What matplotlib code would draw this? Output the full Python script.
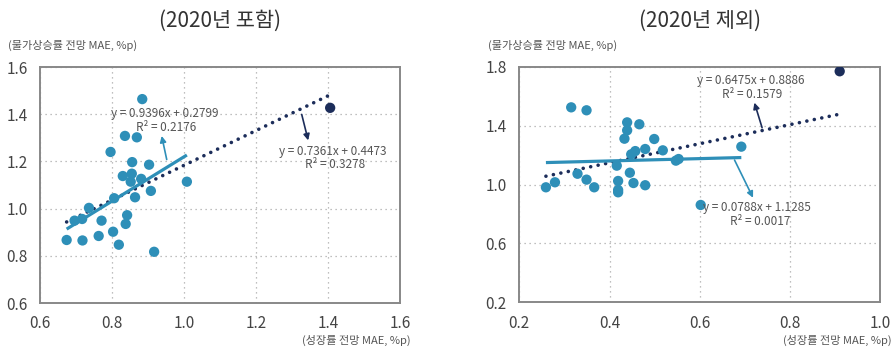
import numpy as np
import matplotlib
matplotlib.use("Agg")
import matplotlib.pyplot as plt

plt.rcParams['font.family'] = ['Noto Sans CJK KR', 'DejaVu Sans']

# (2020년 포함) - 성장률 MAE (x), 물가상승률 MAE (y)
inc_x = [0.884, 0.836, 0.869, 0.796, 0.856, 0.903, 0.830, 0.855, 0.852, 0.881,
         1.008, 0.908, 0.864, 0.806, 0.736, 0.696, 0.717, 0.771, 0.842, 0.838,
         0.674, 0.718, 0.763, 0.803, 0.819, 0.917]
inc_y = [1.464, 1.308, 1.302, 1.240, 1.197, 1.186, 1.138, 1.148, 1.114, 1.126,
         1.114, 1.075, 1.048, 1.044, 1.003, 0.949, 0.956, 0.949, 0.972, 0.935,
         0.867, 0.865, 0.884, 0.902, 0.847, 0.817]
inc_2020 = [1.406, 1.427]

# (2020년 제외)
exc_x = [0.315, 0.349, 0.439, 0.466, 0.439, 0.433, 0.499, 0.479, 0.457, 0.448,
         0.518, 0.547, 0.553, 0.416, 0.445, 0.329, 0.349, 0.279, 0.259, 0.366,
         0.419, 0.453, 0.479, 0.419, 0.419, 0.602, 0.692]
exc_y = [1.524, 1.504, 1.422, 1.409, 1.368, 1.311, 1.309, 1.241, 1.227, 1.205,
         1.232, 1.162, 1.173, 1.128, 1.080, 1.073, 1.033, 1.015, 0.981, 0.981,
         1.024, 1.010, 0.995, 0.963, 0.947, 0.861, 1.257]
exc_2020 = [0.910, 1.769]

# trend lines from the chart: (slope, intercept, R2)
inc_fit_light = (0.9396, 0.2799, 0.2176)
inc_fit_all = (0.7361, 0.4473, 0.3278)
exc_fit_light = (0.0788, 1.1285, 0.0017)
exc_fit_all = (0.6475, 0.8886, 0.1579)

light = '#2e8fb8'
navy = '#1c2d5a'
grey_txt = '#555555'

fig = plt.figure(figsize=(8.94, 3.5), dpi=100)
ax1 = fig.add_axes([40 / 894, 47 / 350, 360 / 894, 236 / 350])
ax2 = fig.add_axes([519.3 / 894, 47.7 / 350, 361 / 894, 235.6 / 350])


def eq(fit):
    s, b, r2 = fit
    return f"y = {s:.4f}x + {b:.4f}", f"R² = {r2:.4f}"


def panel(ax, xs, ys, pt, fit_light, fit_all, xlim, ylim, xticks, yticks,
          title, txt_light, txt_all, arr_light, arr_all):
    ax.set_xlim(*xlim)
    ax.set_ylim(*ylim)
    ax.set_xticks(xticks)
    ax.set_yticks(yticks)
    ax.set_xticklabels([f"{t:.1f}" for t in xticks])
    ax.set_yticklabels([f"{t:.1f}" for t in yticks])
    ax.tick_params(length=0, labelsize=11, colors='#444444', pad=9)
    ax.grid(True, linestyle=(0, (1, 3)), color='#aaaaaa', linewidth=0.9)
    for sp in ax.spines.values():
        sp.set_color('#888888')
        sp.set_linewidth(1.4)

    # dotted trend (all points incl. dark)
    all_x = list(xs) + [pt[0]]
    x0, x1 = min(all_x), max(all_x)
    xx = np.array([x0, x1])
    ax.plot(xx, fit_all[0] * xx + fit_all[1], color=navy, linewidth=2.6,
            linestyle=(0, (0.01, 2.1)), dash_capstyle='round', zorder=2)
    # solid trend (light points)
    xl = np.array([min(xs), max(xs)])
    ax.plot(xl, fit_light[0] * xl + fit_light[1], color=light, linewidth=2.3,
            solid_capstyle='butt', zorder=4)

    ax.scatter(xs, ys, s=55, color=light, edgecolors='none', zorder=3)
    ax.scatter([pt[0]], [pt[1]], s=55, color=navy, edgecolors='none', zorder=3)

    l1, l2 = eq(fit_light)
    a1, a2 = eq(fit_all)
    ax.text(*txt_light[0], l1, ha='center', va='center', fontsize=8.5, color=grey_txt, zorder=5)
    ax.text(*txt_light[1], l2, ha='center', va='center', fontsize=8.5, color=grey_txt, zorder=5)
    ax.text(*txt_all[0], a1, ha='center', va='center', fontsize=8.5, color=grey_txt, zorder=5)
    ax.text(*txt_all[1], a2, ha='center', va='center', fontsize=8.5, color=grey_txt, zorder=5)

    ax.annotate('', xy=arr_light[1], xytext=arr_light[0],
                arrowprops=dict(arrowstyle='-|>', color=light, lw=1.2,
                                mutation_scale=9, shrinkA=0, shrinkB=0))
    ax.annotate('', xy=arr_all[1], xytext=arr_all[0],
                arrowprops=dict(arrowstyle='-|>', color=navy, lw=1.2,
                                mutation_scale=9, shrinkA=0, shrinkB=0))

    ax.set_title(title, fontsize=15, color='#333333', pad=29)
    ax.text(-0.088, 1.09, '(물가상승률 전망 MAE, %p)', transform=ax.transAxes,
            ha='left', va='center', fontsize=8, color='#555555')
    ax.text(1.03, -0.16, '(성장률 전망 MAE, %p)', transform=ax.transAxes,
            ha='right', va='center', fontsize=8, color='#555555')


panel(ax1, inc_x, inc_y, inc_2020, inc_fit_light, inc_fit_all,
      (0.6, 1.6), (0.6, 1.6), [0.6, 0.8, 1.0, 1.2, 1.4, 1.6],
      [0.6, 0.8, 1.0, 1.2, 1.4, 1.6], '(2020년 포함)',
      [(0.947, 1.404), (0.95, 1.345)], [(1.414, 1.244), (1.419, 1.187)],
      [(0.952, 1.208), (0.938, 1.308)], [(1.327, 1.399), (1.345, 1.289)])

panel(ax2, exc_x, exc_y, exc_2020, exc_fit_light, exc_fit_all,
      (0.2, 1.0), (0.2, 1.8), [0.2, 0.4, 0.6, 0.8, 1.0],
      [0.2, 0.6, 1.0, 1.4, 1.8], '(2020년 제외)',
      [(0.727, 0.845), (0.734, 0.747)], [(0.712, 1.703), (0.716, 1.608)],
      [(0.677, 1.166), (0.718, 0.910)], [(0.738, 1.386), (0.721, 1.556)])

fig.savefig('out.png', dpi=100)
